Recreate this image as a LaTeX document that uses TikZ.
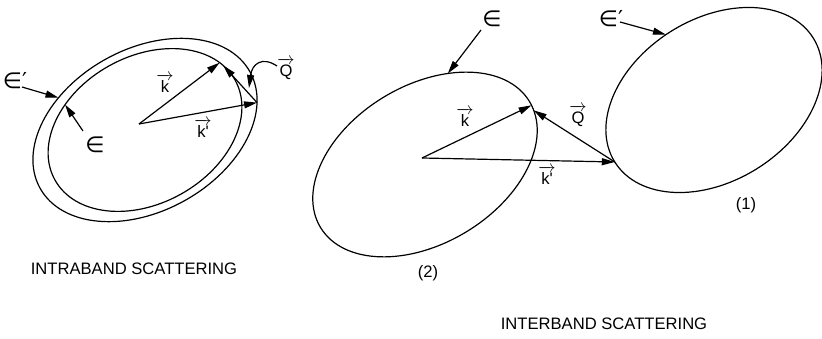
\documentclass[tikz,border=0pt]{standalone}
\usepackage{amsmath}
\usepackage{fontspec}
\setmainfont{Liberation Sans}
\newfontfamily\dejavu{DejaVu Sans}
\usetikzlibrary{arrows.meta}
\newcommand{\bandeps}{{\dejavu\fontsize{22}{22}\selectfont ∈}}
\newcommand{\bandepsp}{{\dejavu\fontsize{22}{22}\selectfont ∈′}}
\newcommand{\vk}{$\overrightarrow{\text{k}}$}
\newcommand{\vkp}{$\overrightarrow{\text{k\textquotesingle}}$}
\newcommand{\vQ}{$\overrightarrow{\text{Q}}$}

\begin{document}
\begin{tikzpicture}[x=1pt, y=-1pt,
  band/.style={line width=1.2pt},
  arr/.style={-{Triangle[length=13pt,width=7pt]}, line width=1.2pt},
  lbl/.style={font=\fontsize{16.6}{19}\selectfont, inner sep=0pt}
]
\useasboundingbox (0,0) rectangle (822,339);

% intraband: two bands round one centre
\draw[band, shift={(145,130)}, rotate=29] (0,0) ellipse [x radius=120, y radius=81];
\draw[band, shift={(145,130)}, rotate=29] (0,0) ellipse [x radius=103, y radius=73.5];
\path[shift={(145,130)}, rotate=29]
  (22:120 and 81) coordinate (kpL)
  (-18:103 and 73.5) coordinate (kL)
  (-14.5:103 and 73.5) coordinate (qL)
  (-120:120 and 81) coordinate (epspL)
  (-124:103 and 73.5) coordinate (epsL);
\coordinate (oL) at (139,124);
\coordinate (epspLs) at (22,87);
\coordinate (epsLs) at (83,131);
\coordinate (qLs) at (277,66);
\coordinate (qLt) at (249,88);

\node[lbl] (epspLl) at (15,81) {\bandepsp};
\node[lbl] (epsLl) at (95,145) {\bandeps};
\node[lbl] (kLl) at (165,83) {\vk};
\node[lbl] (kpLl) at (203,128) {\vkp};
\node[lbl] (qLl) at (286,69) {\vQ};

\draw[arr] (oL) -- (kL);
\draw[arr] (oL) -- (kpL);
\draw[arr] (kpL) -- (qL);
\draw[arr] (epspLs) -- (epspL);
\draw[arr] (epsLs) -- (epsL);
\draw[arr] (qLs) .. controls (262,56) and (252,64) .. (qLt);

% interband: band (2) and band (1)
\draw[band, shift={(425,164.5)}, rotate=31] (0,0) ellipse [x radius=122, y radius=79];
\draw[band, shift={(714,100)}, rotate=32] (0,0) ellipse [x radius=117, y radius=81];
\path[shift={(425,164.5)}, rotate=31]
  (3:122 and 79) coordinate (kR)
  (7:122 and 79) coordinate (qR)
  (-57:122 and 79) coordinate (epsR);
\path[shift={(714,100)}, rotate=32]
  (180:117 and 81) coordinate (kpR)
  (-93:117 and 81) coordinate (epspR);
\coordinate (oR) at (422,158);
\coordinate (epsRs) at (481,30);
\coordinate (epspRs) at (620,22);

\node[lbl] (epsRl) at (492,19) {\bandeps};
\node[lbl] (epspRl) at (611,19) {\bandepsp};
\node[lbl] (kRl) at (465,117) {\vk};
\node[lbl] (qRl) at (578,116) {\vQ};
\node[lbl] (kpRl) at (547,175) {\vkp};
\node[lbl] (oneR) at (746,205) {(1)};
\node[lbl] (twoR) at (428,273) {(2)};

\draw[arr] (oR) -- (kR);
\draw[arr] (oR) -- (kpR);
\draw[arr] (kpR) -- (qR);
\draw[arr] (epsRs) -- (epsR);
\draw[arr] (epspRs) -- (epspR);

\node[lbl] (ttlL) at (134,269) {INTRABAND SCATTERING};
\node[lbl] (ttlR) at (604,324) {INTERBAND SCATTERING};
\end{tikzpicture}
\end{document}
